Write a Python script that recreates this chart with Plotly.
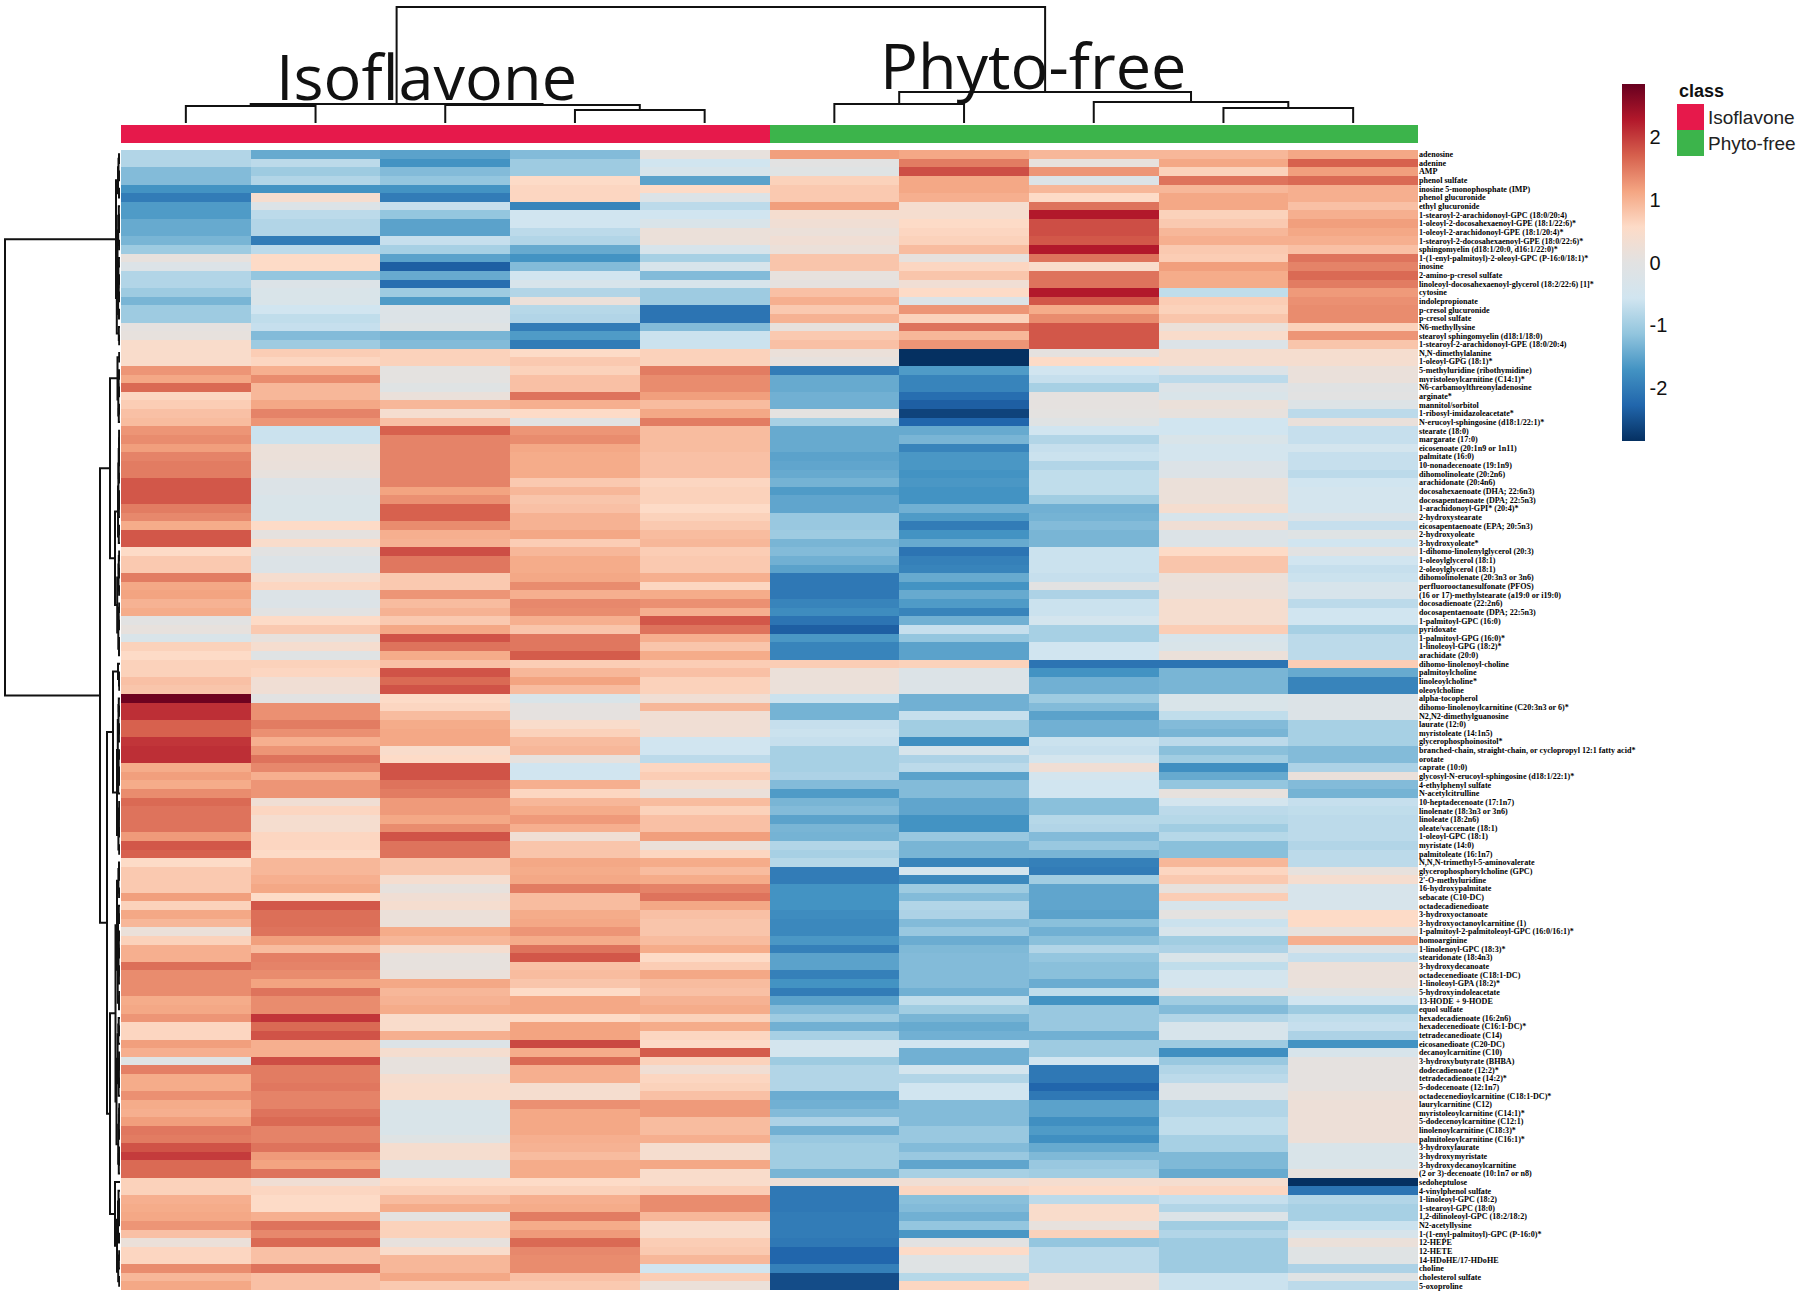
import plotly.graph_objects as go

W, H = 1800, 1296

samples = ["Iso1", "Iso2", "Iso3", "Iso4", "Iso5", "Phy1", "Phy2", "Phy3", "Phy4", "Phy5"]
sample_class = [0, 0, 0, 0, 0, 1, 1, 1, 1, 1]
class_names = ["Isoflavone", "Phyto-free"]
class_colors = ["#e6194b", "#3cb44b"]

metabolites = [
 "adenosine","adenine","AMP","phenol sulfate","inosine 5-monophosphate (IMP)","phenol glucuronide","ethyl glucuronide",
 "1-stearoyl-2-arachidonoyl-GPC (18:0/20:4)","1-oleoyl-2-docosahexaenoyl-GPE (18:1/22:6)*","1-oleoyl-2-arachidonoyl-GPE (18:1/20:4)*",
 "1-stearoyl-2-docosahexaenoyl-GPE (18:0/22:6)*","sphingomyelin (d18:1/20:0, d16:1/22:0)*","1-(1-enyl-palmitoyl)-2-oleoyl-GPC (P-16:0/18:1)*",
 "inosine","2-amino-p-cresol sulfate","linoleoyl-docosahexaenoyl-glycerol (18:2/22:6) [1]*","cytosine","indolepropionate","p-cresol glucuronide",
 "p-cresol sulfate","N6-methyllysine","stearoyl sphingomyelin (d18:1/18:0)","1-stearoyl-2-arachidonoyl-GPE (18:0/20:4)","N,N-dimethylalanine",
 "1-oleoyl-GPG (18:1)*","5-methyluridine (ribothymidine)","myristoleoylcarnitine (C14:1)*","N6-carbamoylthreonyladenosine","arginate*",
 "mannitol/sorbitol","1-ribosyl-imidazoleacetate*","N-erucoyl-sphingosine (d18:1/22:1)*","stearate (18:0)","margarate (17:0)",
 "eicosenoate (20:1n9 or 1n11)","palmitate (16:0)","10-nonadecenoate (19:1n9)","dihomolinoleate (20:2n6)","arachidonate (20:4n6)",
 "docosahexaenoate (DHA; 22:6n3)","docosapentaenoate (DPA; 22:5n3)","1-arachidonoyl-GPI* (20:4)*","2-hydroxystearate",
 "eicosapentaenoate (EPA; 20:5n3)","2-hydroxyoleate","3-hydroxyoleate*","1-dihomo-linolenylglycerol (20:3)","1-oleoylglycerol (18:1)",
 "2-oleoylglycerol (18:1)","dihomolinolenate (20:3n3 or 3n6)","perfluorooctanesulfonate (PFOS)","(16 or 17)-methylstearate (a19:0 or i19:0)",
 "docosadienoate (22:2n6)","docosapentaenoate (DPA; 22:5n3)","1-palmitoyl-GPC (16:0)","pyridoxate","1-palmitoyl-GPG (16:0)*","1-linoleoyl-GPG (18:2)*",
 "arachidate (20:0)","dihomo-linolenoyl-choline","palmitoylcholine","linoleoylcholine*","oleoylcholine","alpha-tocopherol",
 "dihomo-linolenoylcarnitine (C20:3n3 or 6)*","N2,N2-dimethylguanosine","laurate (12:0)","myristoleate (14:1n5)","glycerophosphoinositol*",
 "branched-chain, straight-chain, or cyclopropyl 12:1 fatty acid*","orotate","caprate (10:0)","glycosyl-N-erucoyl-sphingosine (d18:1/22:1)*",
 "4-ethylphenyl sulfate","N-acetylcitrulline","10-heptadecenoate (17:1n7)","linolenate (18:3n3 or 3n6)","linoleate (18:2n6)","oleate/vaccenate (18:1)",
 "1-oleoyl-GPC (18:1)","myristate (14:0)","palmitoleate (16:1n7)","N,N,N-trimethyl-5-aminovalerate","glycerophosphorylcholine (GPC)",
 "2'-O-methyluridine","16-hydroxypalmitate","sebacate (C10-DC)","octadecadienedioate","3-hydroxyoctanoate","3-hydroxyoctanoylcarnitine (1)",
 "1-palmitoyl-2-palmitoleoyl-GPC (16:0/16:1)*","homoarginine","1-linolenoyl-GPC (18:3)*","stearidonate (18:4n3)","3-hydroxydecanoate",
 "octadecenedioate (C18:1-DC)","1-linoleoyl-GPA (18:2)*","5-hydroxyindoleacetate","13-HODE + 9-HODE","equol sulfate","hexadecadienoate (16:2n6)",
 "hexadecenedioate (C16:1-DC)*","tetradecanedioate (C14)","eicosanedioate (C20-DC)","decanoylcarnitine (C10)","3-hydroxybutyrate (BHBA)",
 "dodecadienoate (12:2)*","tetradecadienoate (14:2)*","5-dodecenoate (12:1n7)","octadecenedioylcarnitine (C18:1-DC)*","laurylcarnitine (C12)",
 "myristoleoylcarnitine (C14:1)*","5-dodecenoylcarnitine (C12:1)","linolenoylcarnitine (C18:3)*","palmitoleoylcarnitine (C16:1)*","3-hydroxylaurate",
 "3-hydroxymyristate","3-hydroxydecanoylcarnitine","(2 or 3)-decenoate (10:1n7 or n8)","sedoheptulose","4-vinylphenol sulfate","1-linoleoyl-GPC (18:2)",
 "1-stearoyl-GPC (18:0)","1,2-dilinoleoyl-GPC (18:2/18:2)","N2-acetyllysine","1-(1-enyl-palmitoyl)-GPC (P-16:0)*","12-HEPE","12-HETE",
 "14-HDoHE/17-HDoHE","choline","cholesterol sulfate","5-oxoproline",
]

z_scores = [
 [-0.85,-1.45,-1.54,-1.25,0.1,1.19,1.11,0.95,0.95,1.11],
 [-0.85,-0.76,-1.71,-1.03,-0.57,0,1.48,0.1,1.11,1.7],
 [-1.25,-1.03,-1.25,-1.03,-0.38,-0.1,1.85,1.27,0.67,1.19],
 [-1.25,-0.85,-1.12,0.57,-1.54,0.67,1.11,-0.2,1.55,1.63],
 [-1.71,-1.71,-1.71,0.62,0.57,0.76,1.11,0.95,0.95,1.03],
 [-2.0,0.4,-2.0,0.62,-0.2,0.76,1.03,0.57,1.11,1.03],
 [-1.62,-0.2,-0.67,-1.9,-0.76,1.19,0.4,1.55,1.11,0.85],
 [-1.62,-0.76,-1.12,-0.57,-0.57,0.4,0.4,2.28,0.67,1.03],
 [-1.45,-0.85,-1.54,-0.57,-0.3,0.3,0.57,1.85,0.76,1.19],
 [-1.45,-0.85,-1.54,-0.76,0.2,0.2,0.62,1.85,0.95,1.11],
 [-1.32,-2.0,-0.67,-0.85,0.2,0.3,0.67,1.78,1.03,1.03],
 [-1.03,-0.76,-0.95,-1.45,-0.38,0.2,0.9,2.28,0.76,0.85],
 [0.1,0.57,-1.54,-1.71,-0.95,0.8,0.1,1.55,0.72,1.55],
 [-0.2,0.57,-2.35,-1.25,-0.38,0.8,0.62,0.48,1.19,1.42],
 [-0.85,-1.12,-1.45,-0.57,-1.25,0.1,0.8,1.55,1.07,1.63],
 [-0.85,-0.2,-2.18,-0.38,-0.38,0.06,0.3,1.55,1.07,1.48],
 [-1.03,-0.3,-1.03,-0.85,-1.03,0.85,0.57,2.28,-0.72,1.23],
 [-1.32,-0.3,-1.62,0.2,-1.03,1.03,-0.2,1.78,0.72,1.31],
 [-1.03,-0.57,-0.2,-0.81,-2.1,0.76,1.27,1.07,0.67,1.35],
 [-1.03,-0.72,-0.2,-0.85,-2.1,1.0,0.67,1.35,0.8,1.35],
 [0.06,-0.67,-0.1,-2.0,-1.25,0.1,1.55,1.78,0.2,0.67],
 [0.1,-1.25,-1.32,-1.62,-0.62,0.76,0.95,1.78,0.48,1.27],
 [0.48,-1.03,-1.25,-2.0,-0.62,0.85,1.27,1.78,-0.2,0.8],
 [0.48,0.72,0.67,0.57,0.67,0.2,-2.85,0.06,0.4,0.4],
 [0.48,0.62,0.67,0.76,0.67,0.1,-2.85,0.57,0.4,0.4],
 [1.27,1.03,0.04,0.67,1.48,-2.0,-1.62,-0.57,-0.2,0.16],
 [1.11,1.35,0.04,0.85,1.35,-1.45,-1.9,-0.67,-0.76,0.16],
 [1.63,0.95,-0.1,0.85,1.35,-1.45,-1.9,-0.95,-0.2,-0.06],
 [0.62,0.95,0.16,1.55,1.19,-1.38,-2.18,0.06,-0.3,0],
 [0.72,1.11,0.95,1.03,0.9,-1.38,-2.35,0.06,0.2,-0.16],
 [0.85,1.42,0.4,0.57,1.11,0.04,-2.65,0.04,0.1,-0.76],
 [0.9,1.27,0.85,0,1.48,-0.95,-2.28,-0.1,-0.57,0.16],
 [1.27,-0.62,1.7,1.27,0.9,-1.45,-1.45,-0.57,-0.57,-0.67],
 [1.35,-0.62,1.42,1.35,0.9,-1.45,-1.32,-0.85,-0.3,-0.67],
 [1.19,0.2,1.42,1.11,0.9,-1.45,-1.9,-0.67,-0.48,-0.48],
 [1.42,0.2,1.42,1.07,0.85,-1.54,-1.66,-0.62,-0.48,-0.67],
 [1.48,0.16,1.42,1.07,0.85,-1.5,-1.66,-0.85,-0.2,-0.67],
 [1.48,0.1,1.42,1.07,0.85,-1.45,-1.71,-0.72,-0.2,-0.76],
 [1.78,-0.2,1.42,0.76,0.62,-1.35,-1.66,-0.72,0.2,-0.57],
 [1.78,-0.2,1.15,0.95,0.67,-1.62,-1.71,-0.72,0.2,-0.48],
 [1.78,-0.3,1.31,0.8,0.67,-1.5,-1.71,-1.0,0.2,-0.48],
 [1.48,-0.3,1.7,0.85,0.57,-1.5,-1.38,-1.38,0.4,-0.48],
 [1.38,-0.3,1.7,1.0,0.67,-1.08,-1.62,-1.35,-0.38,-0.2],
 [1.07,0.57,1.35,1.0,0.76,-1.08,-2.0,-1.25,0.3,-0.67],
 [1.78,0.06,1.03,1.11,0.9,-1.03,-1.71,-1.32,-0.2,-0.1],
 [1.78,0.48,1.0,0.72,0.95,-1.32,-1.45,-1.32,-0.2,-0.57],
 [0.57,0,1.85,0.95,0.72,-1.25,-2.1,-0.62,0.57,0],
 [0.76,-0.2,1.52,1.07,0.76,-1.38,-1.95,-0.62,0.8,-0.57],
 [0.76,-0.2,1.52,1.07,0.76,-1.54,-1.9,-0.62,0.8,-0.67],
 [1.48,0.4,0.76,1.11,1.03,-2.05,-1.45,-0.67,0.2,-0.62],
 [1.11,0.62,0.76,1.35,0.62,-2.05,-1.71,0,0.16,-0.38],
 [1.15,-0.2,1.27,1.03,1.07,-2.05,-1.45,-0.9,0.2,-0.38],
 [1.0,-0.2,0.9,1.38,1.31,-1.9,-1.62,-0.62,0.4,-0.76],
 [1.07,0,1.0,1.35,1.03,-1.8,-1.9,-0.62,0.4,-0.57],
 [0,0.57,0.76,1.03,1.78,-2.1,-1.38,-0.48,0.4,-0.57],
 [0.1,0.76,1.11,0.8,1.55,-2.35,-0.67,-0.95,0.72,-0.95],
 [-0.3,0.1,1.81,1.52,1.03,-1.66,-1.12,-0.95,-0.38,-0.76],
 [0.67,0.4,1.55,1.52,0.8,-1.9,-1.54,-0.57,-0.3,-0.76],
 [0.57,-0.1,1.07,1.74,1.07,-1.9,-1.54,-0.57,0.2,-0.76],
 [0.67,0.67,0.85,0.72,0.72,0.72,0.67,-2.1,-2.1,0.72],
 [0.67,0.62,1.81,0.95,0.85,0.2,-0.2,-1.71,-1.32,-1.45],
 [0.85,0.3,1.63,1.15,0.67,0.2,-0.2,-1.38,-1.32,-1.9],
 [0.8,0.3,1.81,0.9,0.67,0.2,-0.2,-1.38,-1.32,-1.9],
 [2.8,0,0.57,-0.3,0.3,-0.62,-1.38,-1.03,-0.3,-0.2],
 [2.1,1.31,0.62,0.06,0.95,-1.35,-1.38,-1.25,-0.3,-0.2],
 [2.1,1.31,0.9,0.06,0.3,-1.35,-0.67,-1.54,-0.72,-0.2],
 [1.7,1.48,1.07,0.48,0.3,-0.67,-1.0,-1.38,-1.25,-0.95],
 [1.7,1.31,1.11,0.67,0.3,-0.62,-1.0,-1.38,-1.32,-0.95],
 [2.05,1.03,1.11,0.9,-0.57,-0.67,-1.76,-0.62,-0.76,-0.95],
 [2.1,1.27,0.48,0.95,-0.57,-0.95,-0.38,-0.67,-1.2,-1.25],
 [2.1,1.55,0.57,0.1,-0.76,-0.95,-0.9,-0.48,-1.0,-1.25],
 [1.07,1.38,1.81,-0.57,0.62,-0.95,-0.76,0.3,-1.76,-0.9],
 [1.19,1.03,1.81,-0.57,0.72,-0.9,-1.54,-0.48,-1.45,0.16],
 [1.07,1.27,1.55,1.03,0.4,-1.25,-1.25,-0.57,-1.12,-1.25],
 [1.35,1.27,1.48,0.62,0.16,-1.62,-1.25,-0.57,0.1,-1.35],
 [1.63,0.3,1.23,0.95,0.9,-1.32,-1.5,-1.2,-0.48,-0.67],
 [1.55,0.62,1.23,1.07,0.67,-1.25,-1.5,-1.2,-0.76,-0.72],
 [1.55,0.4,1.11,1.23,0.85,-1.54,-1.71,-0.81,-0.81,-0.76],
 [1.55,0.4,1.35,1.03,0.85,-1.32,-1.71,-0.85,-1.0,-0.76],
 [1.23,0.62,1.81,0.3,1.19,-1.35,-1.08,-1.25,-0.81,-0.76],
 [1.78,0.62,1.55,0.8,0.2,-0.85,-1.32,-1.08,-1.2,-0.85],
 [1.7,0.57,1.55,0.8,0.62,-0.95,-1.32,-1.32,-1.2,-0.76],
 [0.57,0.95,0.8,1.11,1.07,-0.81,-1.9,-1.95,0.95,-0.76],
 [0.76,0.95,0.8,1.07,0.9,-2.0,-0.48,-2.0,0.62,0.1],
 [0.76,1.03,0.4,1.11,1.07,-2.0,-1.85,-1.0,0.76,0.4],
 [0.76,1.11,0.1,1.48,1.42,-1.71,-1.03,-1.5,0.1,-0.38],
 [1.19,0.57,0.3,0.9,1.55,-1.71,-1.25,-1.5,0.72,-0.38],
 [0.67,1.78,0.4,0.9,1.11,-1.71,-0.85,-1.5,-0.38,-0.38],
 [1.11,1.59,0.2,1.07,0.85,-1.8,-0.9,-1.54,0.04,0.57],
 [0.95,1.59,0.2,1.11,0.8,-1.85,-1.25,-1.2,-0.62,0.57],
 [0.2,1.55,1.07,1.27,0.8,-1.85,-1.08,-1.38,-0.38,0.1],
 [0.67,1.19,0.95,1.07,0.9,-1.66,-1.42,-1.2,-1.0,1.03],
 [1.03,0.9,0.4,1.55,1.07,-1.95,-1.28,-0.85,-0.9,-0.2],
 [1.03,1.45,0.1,1.78,0.57,-1.54,-1.25,-1.12,-0.3,-0.67],
 [1.59,1.42,0.1,0.85,0.72,-1.54,-1.25,-1.2,-0.72,0.2],
 [1.35,1.35,0.16,0.9,1.11,-1.95,-1.25,-1.2,-0.48,0.16],
 [1.35,1.15,1.11,0.8,0.9,-1.71,-1.25,-1.42,-0.48,0.16],
 [1.35,1.55,0.95,0.57,0.85,-2.0,-1.38,-0.72,0,-0.1],
 [1.07,1.35,1.0,1.11,1.0,-1.54,-0.72,-1.71,-1.0,-0.57],
 [1.11,1.35,1.07,1.11,1.07,-1.25,-1.0,-1.08,-1.25,-1.03],
 [1.27,2.05,0.48,0.57,0.67,-1.03,-1.32,-1.08,-0.85,-0.72],
 [0.62,1.63,0.48,1.15,1.07,-1.38,-1.45,-1.08,-0.38,-0.67],
 [0.62,1.81,1.03,1.15,0.62,-0.95,-1.38,-1.38,-0.38,-0.9],
 [1.19,1.03,-0.2,1.9,0.57,-0.48,-0.57,-1.03,-1.03,-1.71],
 [1.03,1.03,0.4,1.07,1.74,-0.48,-1.38,-1.03,-1.76,-0.38],
 [-0.1,1.85,0.1,1.63,0.67,-1.03,-1.38,-0.57,-1.08,0.06],
 [1.45,1.48,0.1,1.03,0.3,-0.85,-0.48,-2.05,-0.85,0.06],
 [1.07,1.48,0.4,1.03,0.62,-0.85,-0.85,-2.05,-0.76,0.06],
 [1.07,1.52,0.48,0.4,0.67,-0.85,-0.57,-2.28,-0.2,0.06],
 [1.31,1.42,0.48,0.4,0.85,-1.42,-0.57,-2.05,-0.2,0.2],
 [1.07,1.42,-0.3,1.31,1.23,-1.38,-1.25,-1.54,-0.85,0.24],
 [1.03,1.55,-0.3,1.11,1.23,-1.25,-1.25,-1.54,-0.85,0.24],
 [1.19,1.63,-0.3,1.11,0.9,-0.9,-1.25,-1.76,-0.72,0.24],
 [1.52,1.42,-0.3,1.11,0.9,-1.38,-1.08,-1.62,-0.72,0.24],
 [1.48,1.42,-0.1,1.03,1.03,-1.08,-1.08,-1.76,-0.95,0.24],
 [1.81,1.55,0.4,1.0,0.4,-1.0,-1.25,-1.45,-0.95,-0.3],
 [2.0,1.23,0.4,0.9,0.4,-1.0,-1.08,-1.28,-1.28,-0.3],
 [1.63,1.15,-0.1,1.07,1.11,-1.0,-1.5,-1.08,-1.28,-0.3],
 [1.63,1.55,-0.1,1.07,0.48,-1.32,-0.95,-1.0,-1.45,0.1],
 [0.67,0.3,0.57,0.57,0.48,0.24,0.3,0.4,0.4,-2.85],
 [0.67,0.62,0.67,0.67,0.72,-2.05,0.62,0.57,0.62,-2.1],
 [1.03,0.57,0.9,1.03,1.35,-2.05,-1.2,-0.76,-0.67,-0.85],
 [1.07,0.57,1.07,1.07,1.35,-2.05,-1.25,0.48,-0.85,-0.95],
 [1.11,1.03,0.04,1.48,0.95,-2.0,-1.38,0.48,-0.2,-0.95],
 [1.27,1.55,0.67,1.07,0.48,-2.0,-1.12,0.1,-1.0,-0.62],
 [0.85,1.38,0.67,1.23,0.48,-2.0,-1.66,0.67,-0.85,-0.38],
 [0.2,1.63,0.1,1.63,0.72,-2.05,0,-1.12,-1.03,0.2],
 [0.62,0.85,0.48,1.38,0.76,-2.28,0.57,-0.76,-1.03,-0.1],
 [0.62,0.85,0.95,1.35,0.95,-2.28,-0.1,-0.76,-1.03,-0.1],
 [1.35,1.55,0.95,1.35,-0.57,-1.95,-0.1,-0.76,-1.03,-0.9],
 [0.95,0.85,1.11,0.85,0.72,-2.55,-0.81,0.16,-0.62,-0.1],
 [1.11,0.85,0.76,0.76,0.2,-2.55,0.62,0.16,-0.62,-0.76],
]

# Dendrogram merge height between each pair of neighbouring leaves (read in reference pixels)
col_merge_heights = [17, 19, 18, 13, 116, 19, 31, 21, 15]
row_merge_heights = [
 1.0,1.5,0.8,2.0,1.0,4.0,1.2,0.7,1.0,1.8,0.9,2.5,1.1,1.6,0.8,1.3,0.7,1.9,1.0,3.2,1.2,0.8,115,
 0.8,2.5,1.0,1.4,0.8,1.7,0.9,1.2,10,
 0.9,0.6,1.0,0.7,1.3,0.8,1.6,0.6,0.9,1.1,2.0,0.7,1.2,5,
 0.8,1.2,0.7,1.5,0.9,2.8,0.8,1.3,0.9,1.7,0.7,1.0,20,
 2.0,1.0,0.7,7,
 1.2,0.8,1.5,0.7,1.1,2.2,0.9,1.4,0.6,1.0,1.8,3.0,0.8,0.5,1.1,0.7,1.6,0.8,13,
 1.0,0.7,1.6,0.9,3.0,1.2,0.8,2.0,0.7,1.2,0.9,1.5,0.7,1.1,2.3,0.8,1.0,4.5,1.3,0.7,1.7,2.4,0.9,0.6,1.2,0.8,1.4,3.5,0.7,0.9,1.1,0.6,1.8,0.8,0.7,1.2,10,
 5,1.5,0.8,1.0,0.7,2.0,1.0,3,0.8,1.2,1.8,0.8,
]

colorbar_ticks = [-2, -1, 0, 1, 2]
rdbu_stops = ["#053061", "#2166ac", "#4393c3", "#92c5de", "#d1e5f0", "#e2e2e2",
              "#fddbc7", "#f4a582", "#d6604d", "#b2182b", "#67001f"]


def dendro_segments(gaps):
    """Lay out an ordered tree: each range splits at its largest neighbour merge height."""
    pos_seg, h_seg = [], []

    def walk(lo, hi):
        if lo == hi:
            return float(lo), 0.0
        split = max(range(lo, hi), key=lambda i: gaps[i])
        p1, h1 = walk(lo, split)
        p2, h2 = walk(split + 1, hi)
        h = gaps[split]
        pos_seg.extend([p1, p1, p2, p2, None])
        h_seg.extend([h1, h, h, h2, None])
        return (p1 + p2) / 2, h

    walk(0, len(gaps))
    return pos_seg, h_seg


# pixel layout helpers
def px_x(a, b):
    return [a / W, b / W]


def px_y(top, bottom):
    return [1 - bottom / H, 1 - top / H]


n_rows, n_cols = len(metabolites), len(samples)
row_idx = list(range(n_rows))
col_idx = list(range(n_cols))

fig = go.Figure()

fig.add_trace(go.Heatmap(
    z=z_scores, x=col_idx, y=row_idx, zmin=-2.85, zmax=2.85,
    colorscale=[[i / 10, c] for i, c in enumerate(rdbu_stops)],
    xaxis="x", yaxis="y",
    colorbar=dict(
        lenmode="pixels", len=357, thicknessmode="pixels", thickness=23,
        x=1622 / W, xanchor="left", y=1 - 84 / H, yanchor="top", xpad=0, ypad=0,
        outlinewidth=0, ticks="", tickmode="array", tickvals=colorbar_ticks,
        ticktext=[str(t) for t in colorbar_ticks], ticklabelposition="outside",
        tickfont=dict(family="Liberation Sans", size=20, color="#111111"),
    ),
))

fig.add_trace(go.Heatmap(
    z=[sample_class], x=col_idx, y=[0], zmin=0, zmax=1, showscale=False,
    colorscale=[[0, class_colors[0]], [1, class_colors[1]]],
    xaxis="x", yaxis="y3", hoverinfo="skip",
))

cx, ch = dendro_segments(col_merge_heights)
fig.add_trace(go.Scatter(x=cx, y=ch, mode="lines", line=dict(color="#111111", width=2),
                         xaxis="x", yaxis="y2", hoverinfo="skip", showlegend=False))
rp, rh = dendro_segments(row_merge_heights)
fig.add_trace(go.Scatter(x=rh, y=rp, mode="lines", line=dict(color="#111111", width=2),
                         xaxis="x2", yaxis="y", hoverinfo="skip", showlegend=False))

annotations = [
    dict(text=class_names[0], x=426 / W, y=1 - 31 / H, xref="paper", yref="paper", showarrow=False,
         xanchor="center", yanchor="top",
         font=dict(family="Open Sans", size=63, color="#111111")),
    dict(text=class_names[1], x=1033 / W, y=1 - 20 / H, xref="paper", yref="paper", showarrow=False,
         xanchor="center", yanchor="top",
         font=dict(family="Open Sans", size=63, color="#111111")),
    dict(text="<b>class</b>", x=1677 / W, y=1 - 91 / H, xref="paper", yref="paper", xanchor="left",
         yanchor="middle", showarrow=False,
         font=dict(family="Liberation Sans", size=18, color="#111111")),
]
shapes = []
for i, (name, col) in enumerate(zip(class_names, class_colors)):
    top = 104 + i * 26
    shapes.append(dict(type="rect", xref="paper", yref="paper", x0=1677 / W, x1=1704 / W,
                       y0=1 - (top + 26) / H, y1=1 - top / H, fillcolor=col, line=dict(width=0)))
    annotations.append(dict(text=name, x=1706 / W, y=1 - (top + 13) / H, xref="paper", yref="paper",
                            xanchor="left", yanchor="middle", showarrow=False,
                            font=dict(family="Liberation Sans", size=19, color="#222222")))

hidden = dict(visible=False, showgrid=False, zeroline=False, fixedrange=True)
fig.update_layout(
    width=W, height=H, margin=dict(l=0, r=0, t=0, b=0), autosize=False,
    paper_bgcolor="white", plot_bgcolor="white", showlegend=False,
    xaxis=dict(domain=px_x(121, 1418), range=[-0.5, 9.5], **hidden),
    yaxis=dict(domain=px_y(150, 1290), range=[n_rows - 0.5, -0.5], anchor="x", side="right",
               tickmode="array", tickvals=row_idx, ticktext=metabolites, ticks="", ticklen=0,
               showgrid=False, zeroline=False, showline=False, automargin=False,
               tickfont=dict(family="Liberation Serif", size=8.1, color="#000000", weight=700)),
    xaxis2=dict(domain=px_x(0, 120), range=[120, 0], anchor="y", **hidden),
    yaxis2=dict(domain=px_y(0, 123), range=[0, 123], anchor="x", **hidden),
    yaxis3=dict(domain=px_y(125, 143), range=[-0.5, 0.5], anchor="x", **hidden),
    annotations=annotations, shapes=shapes,
)

fig.write_html("out.html", config={"displayModeBar": False},
               post_script="document.body.style.margin='0';")
